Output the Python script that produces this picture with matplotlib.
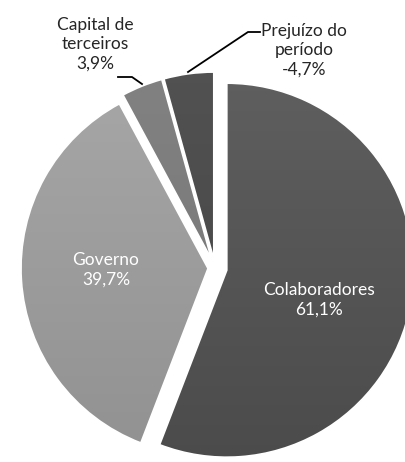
import matplotlib.pyplot as plt
import numpy as np
from matplotlib.colors import LinearSegmentedColormap

plt.rcParams['font.family'] = ['Lato', 'DejaVu Sans']

labels = ['Colaboradores', 'Governo', 'Capital de\nterceiros', 'Prejuízo do\nperíodo']
values = [61.1, 39.7, 3.9, -4.7]
# offsets in axis units (pixels here), pie() does not scale them by radius
explode = [12, 7, 9, 9]
# top / bottom shade of each slice
shades = [('#606060', '#4a4a4a'), ('#a8a8a8', '#909090'),
          ('#828282', '#747474'), ('#525252', '#444444')]

W, H = 406, 462
fig = plt.figure(figsize=(W / 100, H / 100), dpi=100)
ax = fig.add_axes([0, 0, 1, 1])

cx, cy, r = 215, H - 268, 187
wedges, _ = ax.pie(np.abs(values), explode=explode, startangle=90,
                   counterclock=False, radius=r, center=(cx, cy),
                   frame=True, wedgeprops=dict(linewidth=1.2, edgecolor='white'))
ax.set_xlim(0, W)
ax.set_ylim(0, H)
ax.set_aspect('equal')
ax.axis('off')

# vertical gradient fill clipped to each wedge
grad = np.linspace(1, 0, 256).reshape(-1, 1)
for w, (top, bot) in zip(wedges, shades):
    w.set_facecolor('none')
    w.set_zorder(2)
    cmap = LinearSegmentedColormap.from_list('s', [bot, top])
    im = ax.imshow(grad, cmap=cmap, aspect='auto', origin='upper',
                   extent=(cx - r - 30, cx + r + 30, cy - r - 30, cy + r + 30),
                   zorder=1)
    im.set_clip_path(w)
ax.set_xlim(0, W)
ax.set_ylim(0, H)

pct = [f'{v:.1f}%'.replace('.', ',') for v in values]

ax.text(319, H - 300, f'{labels[0]}\n{pct[0]}', color='white', fontsize=12.5,
        ha='center', va='center', linespacing=1.25, zorder=3)
ax.text(106, H - 270, f'{labels[1]}\n{pct[1]}', color='white', fontsize=12.5,
        ha='center', va='center', linespacing=1.25, zorder=3)
ax.text(95, H - 44, f'{labels[2]}\n{pct[2]}', color='#262626', fontsize=12.5,
        ha='center', va='center', linespacing=1.25, zorder=3)
ax.text(304, H - 50, f'{labels[3]}\n{pct[3]}', color='#262626', fontsize=12.5,
        ha='center', va='center', linespacing=1.25, zorder=3)

# leader lines
ax.plot([118, 132, 142], [H - 77, H - 77, H - 84], color='black', lw=1.3, zorder=3)
ax.plot([260, 248, 188], [H - 32, H - 32, H - 72], color='black', lw=1.3, zorder=3)

fig.savefig('out.png', dpi=100)
